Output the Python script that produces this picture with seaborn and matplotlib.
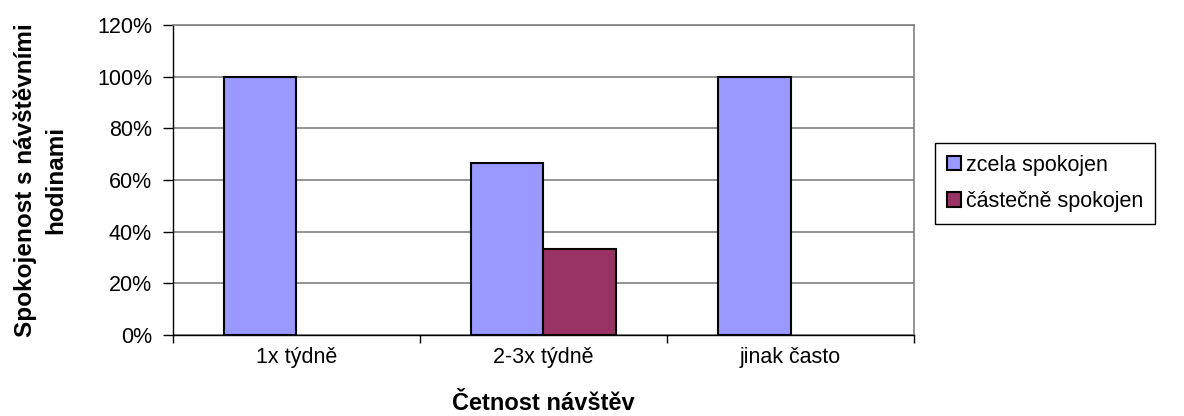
import pandas as pd
import seaborn as sns
import matplotlib.pyplot as plt
from matplotlib.ticker import PercentFormatter

# data
categories = ["1x týdně", "2-3x týdně", "jinak často"]
series = ["zcela spokojen", "částečně spokojen"]
zcela = [1.0, 0.6667, 1.0]
castecne = [0.0, 0.3333, 0.0]
yticks = [0, 0.2, 0.4, 0.6, 0.8, 1.0, 1.2]

df = pd.DataFrame({
    "kategorie": categories * 2,
    "skupina": [series[0]] * 3 + [series[1]] * 3,
    "podil": zcela + castecne,
})

sns.set_theme(style="white")
plt.rcParams["font.family"] = ["Liberation Sans", "DejaVu Sans"]
plt.rcParams["text.color"] = "black"
plt.rcParams["axes.labelcolor"] = "black"
plt.rcParams["xtick.color"] = "black"
plt.rcParams["ytick.color"] = "black"

fig = plt.figure(figsize=(11.84, 4.16), dpi=100)
ax = fig.add_axes([0.146, 0.195, 0.626, 0.745])

sns.barplot(data=df, x="kategorie", y="podil", hue="skupina",
            palette=["#9999FF", "#993366"], saturation=1, width=0.585,
            edgecolor="black", linewidth=1.5, ax=ax)

ax.set_ylim(0, 1.2)
ax.set_xlim(-0.5, 2.5)
ax.set_yticks(yticks)
ax.yaxis.set_major_formatter(PercentFormatter(1.0, decimals=0))
ax.yaxis.grid(True, color="#808080", linewidth=1.2)
ax.set_axisbelow(True)

# ticks: y outward, x at category boundaries
ax.tick_params(axis="y", which="major", left=True, length=7, width=1,
               color="black", direction="out", pad=8, labelsize=15.5)
ax.set_xticks([-0.5, 0.5, 1.5, 2.5], minor=True)
ax.tick_params(axis="x", which="minor", bottom=True, length=6, width=1,
               color="black", direction="out")
ax.tick_params(axis="x", which="major", length=0, pad=9, labelsize=15.5)

for side in ["top", "right"]:
    ax.spines[side].set_color("#808080")
    ax.spines[side].set_linewidth(1.2)
for side in ["left", "bottom"]:
    ax.spines[side].set_color("black")
    ax.spines[side].set_linewidth(1)

ax.set_xlabel("Četnost návštěv", fontsize=17, fontweight="bold", labelpad=17)
ax.set_ylabel("Spokojenost s návštěvními\nhodinami", fontsize=17.5,
              fontweight="bold", linespacing=1.4)
ax.yaxis.set_label_coords(-0.143, 0.5)

ax.legend(loc="upper left", bbox_to_anchor=(935 / 1184, 1 - 143 / 416),
          bbox_transform=fig.transFigure, frameon=True, fancybox=False,
          edgecolor="black", framealpha=1, borderaxespad=0, fontsize=15.5,
          handlelength=0.65, handleheight=0.65, handletextpad=0.25,
          labelspacing=0.7, borderpad=0.55)
ax.get_legend().get_frame().set_linewidth(1)

# zero-height bars draw nothing in the original (hide after legend is built)
for p in ax.patches:
    if p.get_height() == 0:
        p.set_visible(False)

fig.savefig("out.png", dpi=100)
